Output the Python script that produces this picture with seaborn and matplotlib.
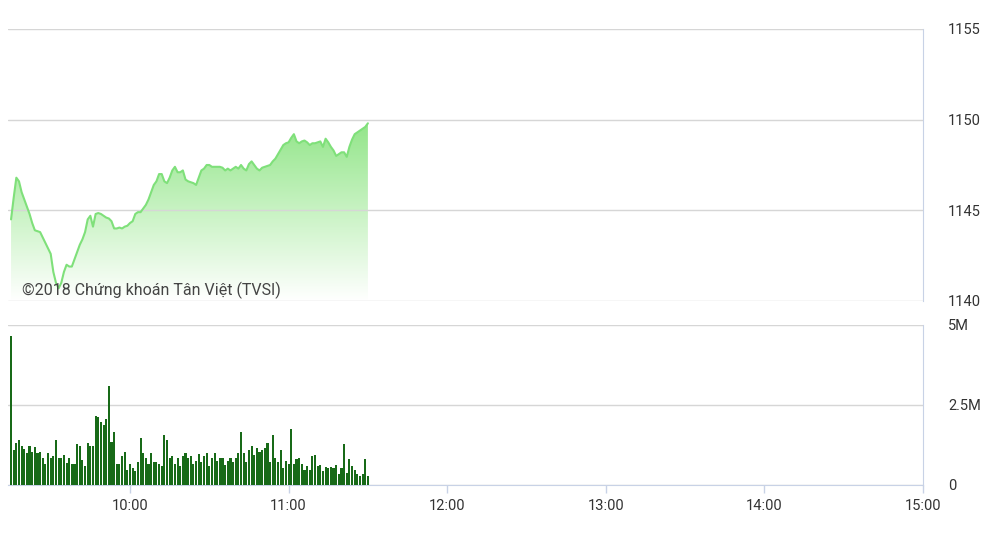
import numpy as np
import pandas as pd
import matplotlib
matplotlib.use("Agg")
import matplotlib.pyplot as plt
import seaborn as sns
from matplotlib.colors import LinearSegmentedColormap
from matplotlib.patches import PathPatch

#------------------------------------------------------------------
# intraday data, one point per minute from 9:15 to 11:30
price = [1144.5, 1145.7, 1146.8, 1146.6, 1146.0, 1145.6, 1145.2, 1144.8, 1144.3, 1143.9,
         1143.85, 1143.8, 1143.5, 1143.2, 1142.9, 1142.6, 1141.6, 1141.0, 1140.7, 1141.0,
         1141.6, 1142.0, 1141.9, 1141.9, 1142.3, 1142.7, 1143.1, 1143.4, 1143.8, 1144.5,
         1144.7, 1144.1, 1144.8, 1144.85, 1144.8, 1144.7, 1144.6, 1144.55, 1144.4, 1144.0,
         1144.0, 1144.05, 1144.0, 1144.1, 1144.15, 1144.3, 1144.4, 1144.8, 1144.9, 1144.9,
         1145.1, 1145.3, 1145.6, 1146.0, 1146.4, 1146.6, 1147.0, 1147.0, 1146.6, 1146.5,
         1146.8, 1147.2, 1147.4, 1147.1, 1147.1, 1147.2, 1146.7, 1146.6, 1146.55, 1146.5,
         1146.4, 1146.8, 1147.2, 1147.3, 1147.5, 1147.5, 1147.4, 1147.4, 1147.4, 1147.4,
         1147.35, 1147.2, 1147.3, 1147.2, 1147.3, 1147.4, 1147.3, 1147.5, 1147.3, 1147.2,
         1147.55, 1147.7, 1147.5, 1147.3, 1147.2, 1147.35, 1147.4, 1147.45, 1147.5, 1147.7,
         1147.85, 1148.1, 1148.35, 1148.6, 1148.7, 1148.75, 1149.0, 1149.2, 1148.8, 1148.7,
         1148.8, 1148.85, 1148.75, 1148.6, 1148.7, 1148.7, 1148.75, 1148.8, 1148.5, 1148.95,
         1148.75, 1148.5, 1148.3, 1148.0, 1148.1, 1148.2, 1148.2, 1147.95, 1148.5, 1148.9,
         1149.2, 1149.3, 1149.4, 1149.5, 1149.6, 1149.8]

# volume in millions
volume = [4.67, 1.10, 1.31, 1.42, 1.21, 1.13, 1.00, 1.23, 1.04, 1.19,
          1.00, 1.04, 0.83, 0.67, 1.00, 0.83, 0.92, 1.40, 0.83, 0.83,
          0.94, 0.69, 0.83, 0.67, 0.67, 1.29, 1.21, 0.77, 0.58, 1.31,
          1.21, 1.21, 2.17, 2.13, 1.98, 1.89, 2.07, 3.10, 1.33, 1.67,
          0.65, 0.67, 0.92, 1.04, 0.48, 0.67, 0.54, 0.44, 0.73, 1.48,
          1.00, 0.83, 0.65, 1.00, 0.73, 0.73, 0.67, 0.58, 1.56, 1.42,
          0.85, 0.92, 0.65, 0.85, 0.58, 0.92, 1.00, 0.83, 0.92, 0.67,
          0.75, 0.96, 0.73, 0.92, 1.00, 0.58, 0.85, 1.00, 0.75, 0.85,
          0.85, 0.63, 0.75, 0.83, 0.73, 0.85, 1.00, 1.67, 1.00, 0.73,
          1.10, 1.21, 0.94, 1.15, 1.04, 1.10, 1.15, 1.31, 0.73, 1.56,
          0.85, 0.73, 1.10, 0.54, 0.75, 0.67, 1.75, 0.67, 0.81, 0.85,
          0.65, 0.48, 0.58, 0.48, 0.92, 0.94, 0.58, 0.63, 0.44, 0.56,
          0.54, 0.56, 0.54, 0.63, 0.35, 0.54, 1.29, 0.38, 0.81, 0.58,
          0.48, 0.35, 0.29, 0.35, 0.81, 0.27]

hour_ticks = [10, 11, 12, 13, 14, 15]
hour_labels = ['10:00', '11:00', '12:00', '13:00', '14:00', '15:00']
price_ticks = [1140, 1145, 1150, 1155]
vol_ticks = [0, 2.5, 5]
vol_labels = ['0', '2.5M', '5M']

t = 9.25 + np.arange(len(price)) / 60.0
df = pd.DataFrame({'time': t, 'price': price, 'volume': volume})

#------------------------------------------------------------------
sns.set_style('white')
plt.rcParams['font.family'] = ['Roboto', 'DejaVu Sans']

fig = plt.figure(figsize=(9.9, 5.56), dpi=100)
ax = fig.add_axes([8/990, 1 - 301/556, 915/990, 272/556])
ax2 = fig.add_axes([8/990, 1 - 485/556, 915/990, 160/556])

xmin = 15 - 915 / 158.6
grid_c = '#d6d6d6'
axis_c = '#c8d2e6'
text_c = '#333333'

#-----------------------------
# price panel
sns.lineplot(data=df, x='time', y='price', ax=ax, color='#7fe07a', lw=1.5, zorder=4)
poly = ax.fill_between(df['time'], df['price'], 1140, color='none', lw=0)
clip = PathPatch(poly.get_paths()[0], facecolor='none', edgecolor='none', transform=ax.transData)
ax.add_patch(clip)
cmap = LinearSegmentedColormap.from_list('g', ['#ffffff', '#c9f3c4', '#93e58a'])
grad = np.linspace(1, 0, 256).reshape(-1, 1)
im = ax.imshow(grad, cmap=cmap, aspect='auto', origin='upper',
               extent=[t[0], t[-1], 1140, max(price)], zorder=1)
im.set_clip_path(clip)

ax.set_xlim(xmin, 15)
ax.set_ylim(1140, 1155)
ax.set_yticks(price_ticks)
ax.yaxis.tick_right()
ax.set_xticks([])
ax.grid(axis='y', color=grid_c, lw=1)
ax.set_axisbelow('line')
for s in ['top', 'left', 'bottom']:
    ax.spines[s].set_visible(False)
ax.spines['right'].set_color(axis_c)
ax.tick_params(axis='y', length=0, pad=18, labelsize=10.5, labelcolor=text_c)
ax.set_xlabel('')
ax.set_ylabel('')
ax.text(0.0153, 0.04, '©2018 Chứng khoán Tân Việt (TVSI)', transform=ax.transAxes,
        fontsize=11.5, color='#444444', va='center', ha='left', zorder=5)

#-----------------------------
# volume panel
sns.barplot(data=df, x='time', y='volume', native_scale=True, ax=ax2, color='#186a18',
            saturation=1, width=0.8, errorbar=None, linewidth=0, zorder=3)
ax2.set_xlim(xmin, 15)
ax2.set_ylim(0, 5)
ax2.set_yticks(vol_ticks)
ax2.set_yticklabels(vol_labels)
ax2.yaxis.tick_right()
ax2.set_xticks(hour_ticks)
ax2.set_xticklabels(hour_labels)
ax2.grid(axis='y', color=grid_c, lw=1)
ax2.set_axisbelow(True)
for s in ['top', 'left']:
    ax2.spines[s].set_visible(False)
ax2.spines['right'].set_color(axis_c)
ax2.spines['bottom'].set_color(axis_c)
ax2.tick_params(axis='y', length=0, pad=18, labelsize=10.5, labelcolor=text_c)
ax2.tick_params(axis='x', length=6, width=1, color=axis_c, pad=4, labelsize=10.5,
                labelcolor=text_c, bottom=True)
ax2.set_xlabel('')
ax2.set_ylabel('')

fig.savefig('out.png', dpi=100)
